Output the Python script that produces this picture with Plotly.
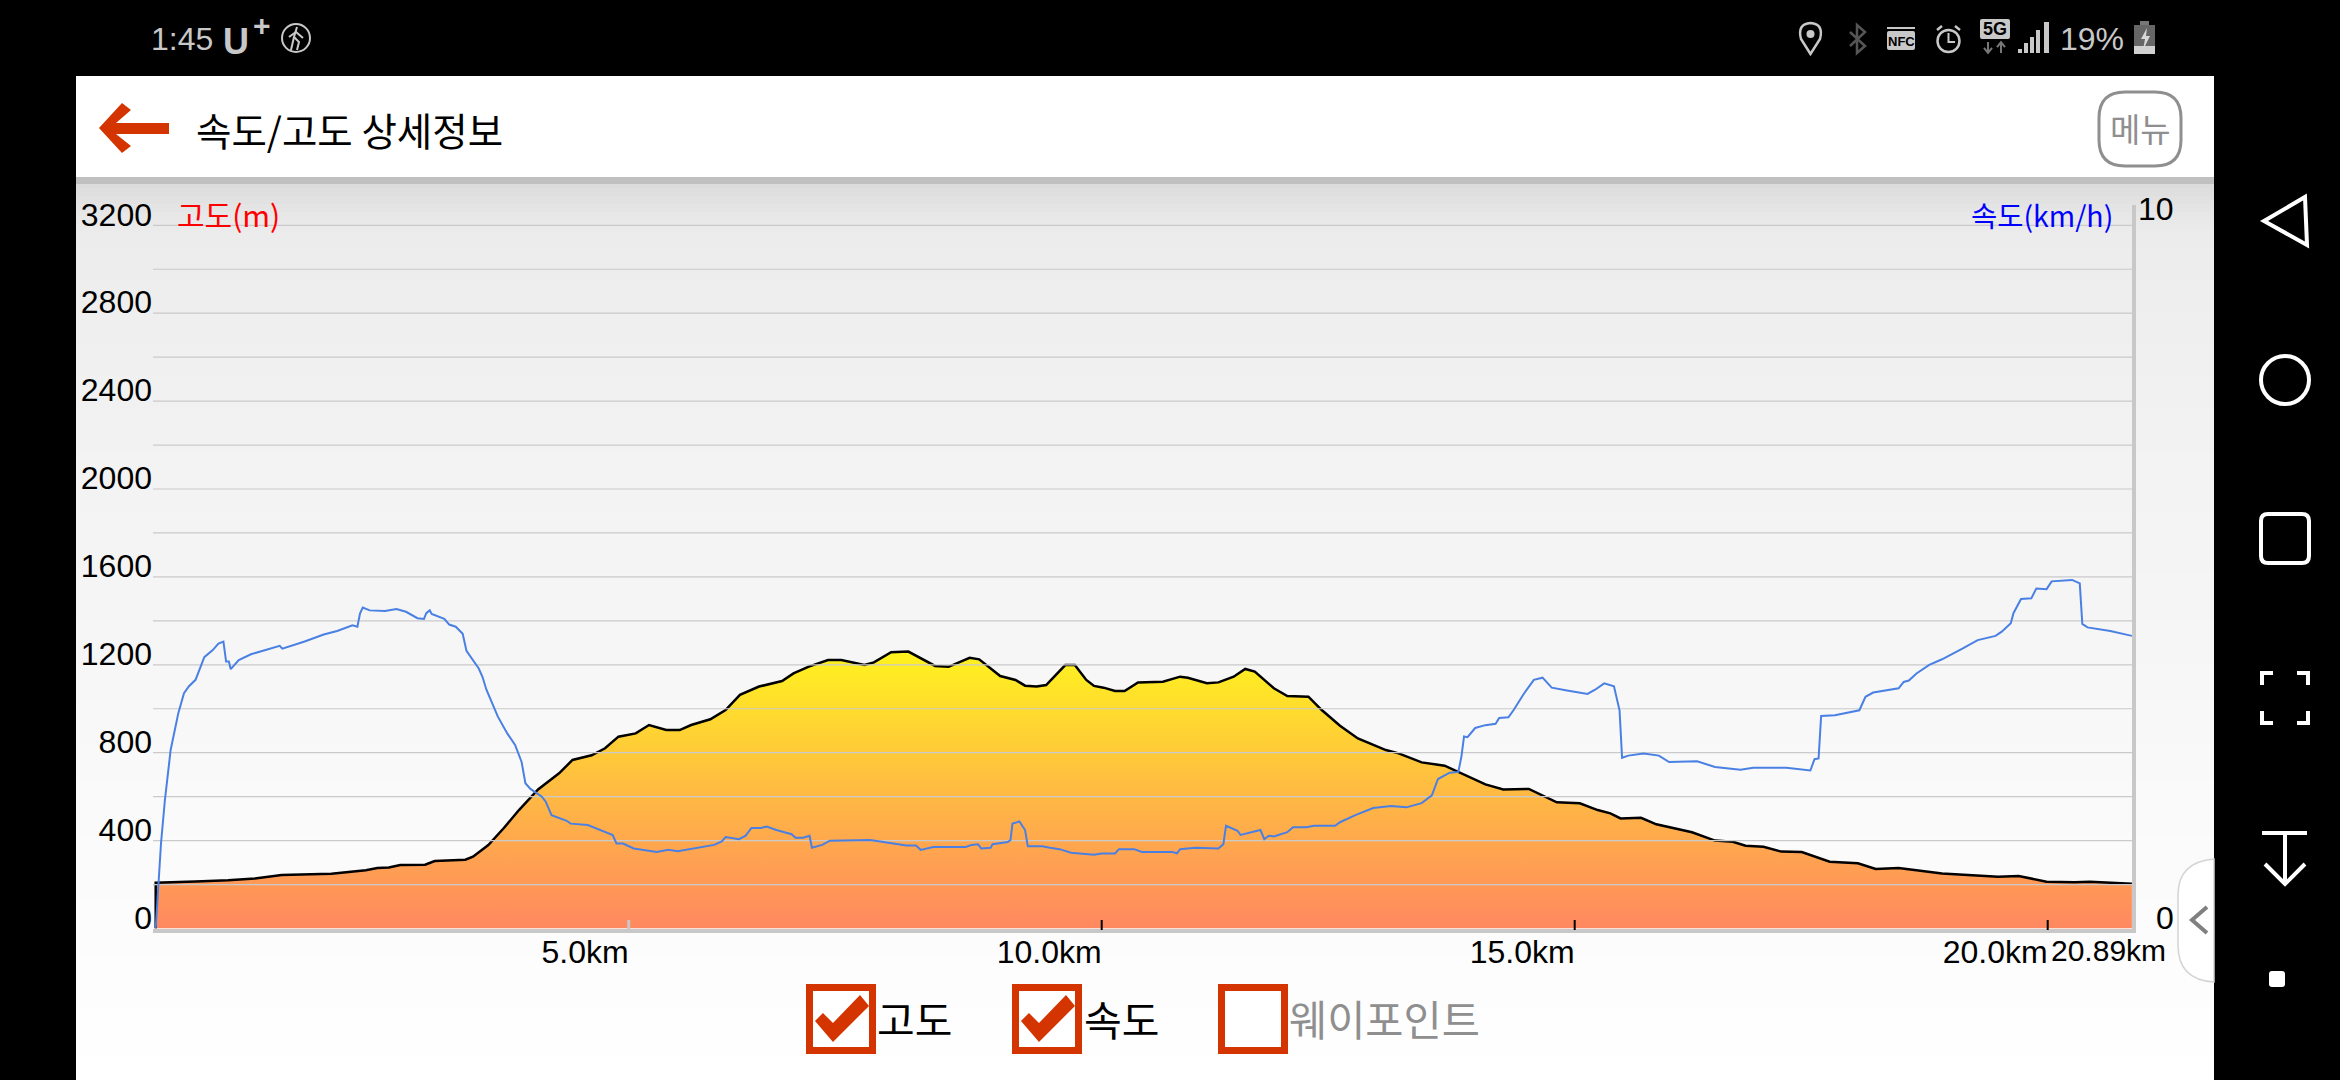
import plotly.graph_objects as go

# ---------- data ----------
alt_km = [0,0,0.421,0.765,1.048,1.331,1.857,2.221,2.343,2.464,2.585,2.848,2.949,3.273,3.354,3.516,3.678,3.84,4.042,4.123,4.264,4.406,4.608,4.75,4.892,5.074,5.215,5.397,5.539,5.66,5.863,6.024,6.176,6.378,6.621,6.742,6.904,7.107,7.248,7.491,7.592,7.774,7.956,8.239,8.381,8.604,8.705,8.927,9.089,9.19,9.312,9.413,9.615,9.716,9.837,9.919,10.02,10.141,10.242,10.384,10.647,10.829,10.91,11.112,11.234,11.395,11.517,11.618,11.82,11.962,12.185,12.326,12.519,12.708,13.004,13.139,13.382,13.625,13.867,14.056,14.245,14.515,14.811,15.054,15.243,15.377,15.485,15.701,15.863,16.24,16.483,16.672,16.806,16.995,17.184,17.4,17.696,17.993,18.182,18.424,18.883,19.233,19.476,19.692,19.988,20.285,20.447,20.89]
alt_m = [0,208,214,219,228,243,249,265,275,278,289,290,307,313,327,380,456,539,633,661,706,767,788,820,873,888,926,903,903,926,952,994,1063,1101,1126,1161,1192,1222,1222,1199,1211,1257,1260,1195,1191,1232,1225,1149,1131,1105,1101,1108,1199,1199,1131,1104,1096,1081,1081,1120,1123,1146,1141,1116,1120,1146,1181,1169,1093,1058,1055,994,923,865,812,797,756,741,694,656,633,635,574,570,539,524,501,504,474,438,400,395,377,372,350,348,304,297,271,275,250,243,236,239,213,210,213,204]

spd_km = [0,0.036,0.056,0.097,0.158,0.239,0.299,0.352,0.421,0.514,0.603,0.663,0.716,0.744,0.773,0.793,0.878,1.007,1.21,1.311,1.339,1.574,1.776,1.918,2.08,2.132,2.16,2.189,2.262,2.424,2.545,2.646,2.767,2.836,2.86,2.897,2.917,3.051,3.103,3.172,3.245,3.285,3.415,3.455,3.496,3.577,3.617,3.718,3.799,3.868,3.908,3.961,4.082,4.123,4.184,4.345,4.386,4.568,4.831,4.871,4.94,5.053,5.296,5.418,5.519,5.903,5.984,6.024,6.166,6.237,6.297,6.399,6.459,6.56,6.722,6.763,6.844,6.912,6.937,7.046,7.127,7.552,7.875,7.936,8.037,8.086,8.219,8.401,8.462,8.563,8.624,8.693,8.725,8.826,8.846,9.008,9.036,9.057,9.13,9.19,9.219,9.372,9.453,9.554,9.676,9.919,10.0,10.141,10.182,10.343,10.424,10.748,10.796,10.829,10.991,11.234,11.286,11.314,11.436,11.468,11.678,11.719,11.767,11.82,11.962,12.022,12.164,12.245,12.468,12.519,12.681,12.87,13.058,13.22,13.382,13.49,13.555,13.678,13.77,13.803,13.83,13.867,13.948,14.056,14.164,14.202,14.299,14.353,14.461,14.568,14.66,14.757,14.919,15.135,15.216,15.312,15.415,15.474,15.501,15.566,15.728,15.89,15.998,16.294,16.483,16.752,16.887,17.103,17.238,17.491,17.535,17.578,17.605,17.75,17.912,18.009,18.074,18.155,18.424,18.478,18.532,18.613,18.748,18.883,19.098,19.26,19.449,19.514,19.61,19.638,19.718,19.827,19.88,19.988,20.042,20.258,20.339,20.366,20.42,20.662,20.89]
spd_kmh = [0,0.78,1.2,1.81,2.52,3.04,3.32,3.42,3.51,3.83,3.93,4.02,4.05,3.77,3.77,3.66,3.79,3.87,3.95,3.99,3.95,4.05,4.15,4.2,4.28,4.26,4.45,4.53,4.49,4.48,4.51,4.47,4.38,4.37,4.45,4.49,4.44,4.37,4.29,4.26,4.16,3.92,3.67,3.55,3.37,3.13,2.99,2.75,2.59,2.35,2.05,1.97,1.86,1.79,1.6,1.52,1.48,1.46,1.32,1.2,1.2,1.13,1.08,1.11,1.09,1.18,1.23,1.29,1.26,1.31,1.42,1.42,1.44,1.39,1.33,1.28,1.28,1.31,1.14,1.18,1.24,1.25,1.19,1.17,1.17,1.11,1.15,1.15,1.14,1.15,1.18,1.19,1.13,1.14,1.19,1.22,1.25,1.48,1.51,1.39,1.16,1.16,1.14,1.12,1.07,1.04,1.06,1.06,1.12,1.12,1.08,1.08,1.06,1.12,1.14,1.13,1.19,1.45,1.38,1.32,1.39,1.26,1.31,1.3,1.36,1.43,1.43,1.45,1.45,1.5,1.6,1.7,1.73,1.71,1.77,1.88,2.11,2.2,2.21,2.43,2.71,2.7,2.83,2.87,2.89,2.97,2.98,3.08,3.31,3.51,3.54,3.4,3.36,3.31,3.37,3.46,3.42,3.08,2.41,2.44,2.47,2.44,2.35,2.36,2.28,2.24,2.27,2.27,2.27,2.23,2.39,2.4,3.0,3.01,3.06,3.08,3.27,3.33,3.39,3.48,3.5,3.6,3.72,3.8,3.95,4.07,4.13,4.19,4.31,4.45,4.65,4.66,4.8,4.79,4.9,4.92,4.87,4.3,4.25,4.2,4.13]

grid_levels = [200,400,600,800,1000,1200,1400,1600,1800,2000,2200,2400,2600,2800,3000,3200]
y_tick_vals = [0,400,800,1200,1600,2000,2400,2800,3200]
x_tick_vals = [5,10,15,20]
x_tick_text = ["5.0km","10.0km","15.0km","20.0km"]
x_end = 20.89
x_end_text = "20.89km"
speed_ticks = [0,10]

# ---------- page geometry (pixels) ----------
W, H = 2340, 1080
PLOT_L, PLOT_R, PLOT_T, PLOT_B = 153, 2132, 205, 928.5
KM_PX = 94.6; KM0_PX = 155.7
ALT_PX = 0.21975; SPD_PX = 70.85
RED = "#d43500"; LIGHT = "#c8c8c8"; GREY = "#8f8f8f"
LATIN = "Liberation Sans, Noto Sans CJK KR, sans-serif"
KR = "Noto Sans CJK KR, sans-serif"

X = lambda px: px / W
Y = lambda py: 1 - py / H
shapes, notes = [], []

def path(pts, close=True):
    return "M" + " L".join(f"{X(a):.5f},{Y(b):.5f}" for a, b in pts) + (" Z" if close else "")

def poly(pts, fill=None, line=None, lw=0, close=True, layer="above"):
    shapes.append(dict(type="path", xref="paper", yref="paper", path=path(pts, close), layer=layer,
                       fillcolor=fill if fill else "rgba(0,0,0,0)",
                       line=dict(color=line if line else "rgba(0,0,0,0)", width=lw)))

def rect(x0, y0, x1, y1, fill=None, line=None, lw=0, layer="above"):
    shapes.append(dict(type="rect", xref="paper", yref="paper", x0=X(x0), x1=X(x1), y0=Y(y1), y1=Y(y0), layer=layer,
                       fillcolor=fill if fill else "rgba(0,0,0,0)",
                       line=dict(color=line if line else "rgba(0,0,0,0)", width=lw)))

def rrect(x0, y0, x1, y1, r, fill=None, line=None, lw=0, layer="above"):
    d = (f"M{X(x0+r):.5f},{Y(y0):.5f} L{X(x1-r):.5f},{Y(y0):.5f} Q{X(x1):.5f},{Y(y0):.5f} {X(x1):.5f},{Y(y0+r):.5f} "
         f"L{X(x1):.5f},{Y(y1-r):.5f} Q{X(x1):.5f},{Y(y1):.5f} {X(x1-r):.5f},{Y(y1):.5f} "
         f"L{X(x0+r):.5f},{Y(y1):.5f} Q{X(x0):.5f},{Y(y1):.5f} {X(x0):.5f},{Y(y1-r):.5f} "
         f"L{X(x0):.5f},{Y(y0+r):.5f} Q{X(x0):.5f},{Y(y0):.5f} {X(x0+r):.5f},{Y(y0):.5f} Z")
    shapes.append(dict(type="path", xref="paper", yref="paper", path=d, layer=layer,
                       fillcolor=fill if fill else "rgba(0,0,0,0)",
                       line=dict(color=line if line else "rgba(0,0,0,0)", width=lw)))

def circ(cx, cy, r, fill=None, line=None, lw=0):
    shapes.append(dict(type="circle", xref="paper", yref="paper", x0=X(cx-r), x1=X(cx+r), y0=Y(cy+r), y1=Y(cy-r),
                       fillcolor=fill if fill else "rgba(0,0,0,0)",
                       line=dict(color=line if line else "rgba(0,0,0,0)", width=lw)))

def text(s, px, py, size, color="#000", anchor="left", family=KR, bold=False):
    notes.append(dict(xref="paper", yref="paper", x=X(px), y=Y(py), text=f"<b>{s}</b>" if bold else s, showarrow=False,
                      xanchor=anchor, yanchor="middle", font=dict(size=size, color=color, family=family),
                      borderpad=0, borderwidth=0))

# panel background: stacked rectangles approximating the vertical gradient
stops = [(184, 0xdc), (210, 0xe6), (232, 0xec), (420, 0xf2), (600, 0xf5), (800, 0xfa), (930, 0xfc), (1080, 0xff)]
def grey_at(y):
    for (a, ca), (b, cb) in zip(stops, stops[1:]):
        if a <= y <= b:
            return round(ca + (cb - ca) * (y - a) / (b - a))
    return 0xff
rect(76, 76, 2214, 1080, "#ffffff", layer="below")
rect(76, 177, 2214, 185, "#c0c0c0", layer="below")
for y in range(184, 1080, 4):
    g = grey_at(y)
    rect(76, y, 2214, 1080, f"#{g:02x}{g:02x}{g:02x}", layer="below")

# header
poly([(99,128),(122,103),(131,110),(116,123),(169,123),(169,134),(116,134),(131,146),(122,153)], RED)
text("속도/고도 상세정보", 196, 129, 38.5)
rrect(2099, 92, 2181, 166, 26, "#ffffff", GREY, 3)
text("메뉴", 2140, 128, 33, GREY, "center")

# chart captions
text("고도(m)", 177, 214, 30, "#ff0000")
text("속도(km/h)", 2113, 214, 28.5, "#0000ff", "right")

# side tab
d = (f"M{X(2214):.5f},{Y(859):.5f} Q{X(2178):.5f},{Y(862):.5f} {X(2178):.5f},{Y(895):.5f} "
     f"L{X(2178):.5f},{Y(945):.5f} Q{X(2178):.5f},{Y(980):.5f} {X(2214):.5f},{Y(982):.5f} Z")
shapes.append(dict(type="path", xref="paper", yref="paper", path=d, fillcolor="#ffffff", line=dict(color="#d4d4d4", width=1.5), layer="below"))
poly([(2207,907),(2192,920),(2207,933)], None, "#808080", 4, close=False)

# checkboxes
for x0, checked in ((806, True), (1012, True), (1218, False)):
    rect(x0, 984, x0 + 70, 1054, RED)
    rect(x0 + 7, 991, x0 + 63, 1047, "#ffffff")
    if checked:
        poly([(x0+9,1021),(x0+17,1013),(x0+27,1023),(x0+54,995),(x0+63,1006),(x0+27,1042)], RED)
text("고도", 877, 1018, 41)
text("속도", 1084, 1018, 41)
text("웨이포인트", 1289, 1018, 41.5, GREY)

# status bar
SB = "#c8c8c8"
text("1:45", 151, 39, 32, SB, family=LATIN)
text("U", 223, 41, 36, SB, family=LATIN, bold=True)
text("+", 253, 26, 30, SB, family=LATIN, bold=True)
circ(296, 38, 14, None, SB, 2)
poly([(297,27),(294,37),(299,42),(297,50)], None, SB, 2, close=False)
poly([(294,37),(291,50)], None, SB, 2, close=False)
poly([(289,37),(296,32),(303,38)], None, SB, 2, close=False)
d = (f"M{X(1810.5):.5f},{Y(54):.5f} L{X(1801):.5f},{Y(39):.5f} Q{X(1797):.5f},{Y(24):.5f} {X(1810.5):.5f},{Y(23):.5f} "
     f"Q{X(1824):.5f},{Y(24):.5f} {X(1820):.5f},{Y(39):.5f} Z")
shapes.append(dict(type="path", xref="paper", yref="paper", path=d, fillcolor="rgba(0,0,0,0)", line=dict(color=SB, width=2.5)))
circ(1810.5, 34, 4, SB)
poly([(1850,32),(1865,46),(1857,53),(1857,25),(1865,32),(1850,46)], None, "#555555", 2.5, close=False)
rect(1887, 27, 1915, 29, SB)
rrect(1887, 31, 1915, 50, 2, SB)
text("NFC", 1901, 41, 13, "#000", "center", LATIN, True)
circ(1948.5, 41, 11, None, SB, 2.5)
poly([(1948.5,33),(1948.5,42),(1955,42)], None, SB, 2, close=False)
poly([(1937,30),(1942,26)], None, SB, 2.5, close=False)
poly([(1960,30),(1955,26)], None, SB, 2.5, close=False)
rrect(1980, 19, 2010, 39, 2, SB)
text("5G", 1995, 29.5, 18, "#000", "center", LATIN, True)
poly([(1988,42),(1988,53)], None, "#777777", 2, close=False)
poly([(1984,48),(1988,53),(1992,48)], None, "#777777", 2, close=False)
poly([(2001,53),(2001,42)], None, "#777777", 2, close=False)
poly([(1997,47),(2001,42),(2005,47)], None, "#777777", 2, close=False)
for bx, top in ((2018,49),(2024,43),(2030,37),(2036,30),(2044,22)):
    rect(bx, top, bx + (4 if bx < 2040 else 5), 53, SB)
text("19%", 2060, 39, 32, SB, family=LATIN)
rect(2140, 21, 2149, 25, "#777777")
rect(2134, 25, 2155, 46, "#666666")
rect(2134, 46, 2155, 54, "#d0d0d0")
poly([(2147,28),(2141,39),(2145,39),(2143,50),(2150,36),(2146,36)], "#d8d8d8")

# navigation bar
poly([(2264,221),(2305,197),(2307,245)], None, "#ffffff", 4)
circ(2285, 380, 24, None, "#ffffff", 4)
rrect(2261, 514, 2309, 563, 7, None, "#ffffff", 4)
for (a, b), (c, e) in (((2262,685),(2262,673)), ((2308,685),(2308,673)), ((2262,711),(2262,723)), ((2308,711),(2308,723))):
    dx = 11 if a < 2285 else -11
    poly([(a,b),(c,e),(c+dx,e)], None, "#ffffff", 4, close=False)
poly([(2262,833),(2307,833)], None, "#ffffff", 4, close=False)
poly([(2285,833),(2285,884)], None, "#ffffff", 4, close=False)
poly([(2265,864),(2285,884),(2305,864)], None, "#ffffff", 4, close=False)
rrect(2269, 971, 2285, 987, 3, "#ffffff")

# chart
text(x_end_text, 2051, 950, 30, "#000", family=LATIN)
for v in speed_ticks:
    py = PLOT_B - v * SPD_PX
    text(str(v), 2174, py - 11, 32, "#000", "right", LATIN)

tick_marks = [dict(type="line", xref="x", yref="paper", x0=v, x1=v, y0=Y(930), y1=Y(920), layer="above",
                   line=dict(color=LIGHT if v == 5 else "#000000", width=3 if v == 5 else 2)) for v in x_tick_vals]

grid_x, grid_y = [], []
x_lo = (PLOT_L - KM0_PX) / KM_PX
x_hi = (PLOT_R - KM0_PX) / KM_PX
for lv in grid_levels:
    grid_x += [x_lo, x_hi, None]
    grid_y += [lv, lv, None]

fig = go.Figure()
fig.add_trace(go.Scatter(x=alt_km, y=alt_m, mode="lines", line=dict(color="#000000", width=2.5), fill="tozeroy",
                         fillgradient=dict(type="vertical", start=0, stop=1265,
                                           colorscale=[[0, "#ff8860"], [0.5, "#ffbb42"], [1, "#fff41e"]]),
                         hoverinfo="skip", name="고도"))
fig.add_trace(go.Scatter(x=grid_x, y=grid_y, mode="lines", line=dict(color="#cacaca", width=1.2),
                         hoverinfo="skip", showlegend=False))
fig.add_trace(go.Scatter(x=spd_km, y=spd_kmh, yaxis="y2", mode="lines", line=dict(color="#4a80e4", width=2),
                         hoverinfo="skip", name="속도"))

fig.update_layout(
    width=W, height=H, margin=dict(l=0, r=0, t=0, b=0, pad=0, autoexpand=False), showlegend=False,
    paper_bgcolor="#000000", plot_bgcolor="rgba(0,0,0,0)", shapes=shapes + tick_marks, annotations=notes,
    font=dict(family=LATIN, size=32, color="#000"),
    xaxis=dict(domain=[X(PLOT_L), X(PLOT_R)], range=[x_lo, x_hi], showgrid=False, zeroline=False,
               tickmode="array", tickvals=x_tick_vals, ticktext=x_tick_text, ticks="", ticklen=0,
               ticklabelposition="outside left", ticklabelstandoff=-8, ticklabelshift=2,
               showline=True, linecolor=LIGHT, linewidth=4, tickfont=dict(size=32, family=LATIN, color="#000")),
    yaxis=dict(domain=[Y(PLOT_B), Y(PLOT_T)], range=[0, (PLOT_B - PLOT_T) / ALT_PX], showgrid=False, zeroline=False,
               tickmode="array", tickvals=y_tick_vals, ticks="", ticklen=0, ticklabelstandoff=0, ticklabelshift=-11,
               tickfont=dict(size=32, family=LATIN, color="#000")),
    yaxis2=dict(overlaying="y", side="right", anchor="x", range=[0, (PLOT_B - PLOT_T) / SPD_PX], showgrid=False,
                zeroline=False, showticklabels=False, ticks="", showline=True, linecolor=LIGHT, linewidth=4),
)
fig.write_html("out.html", config=dict(displayModeBar=False, responsive=False),
               post_script="document.body.style.margin='0';document.body.style.overflow='hidden';document.body.style.background='#000';")
